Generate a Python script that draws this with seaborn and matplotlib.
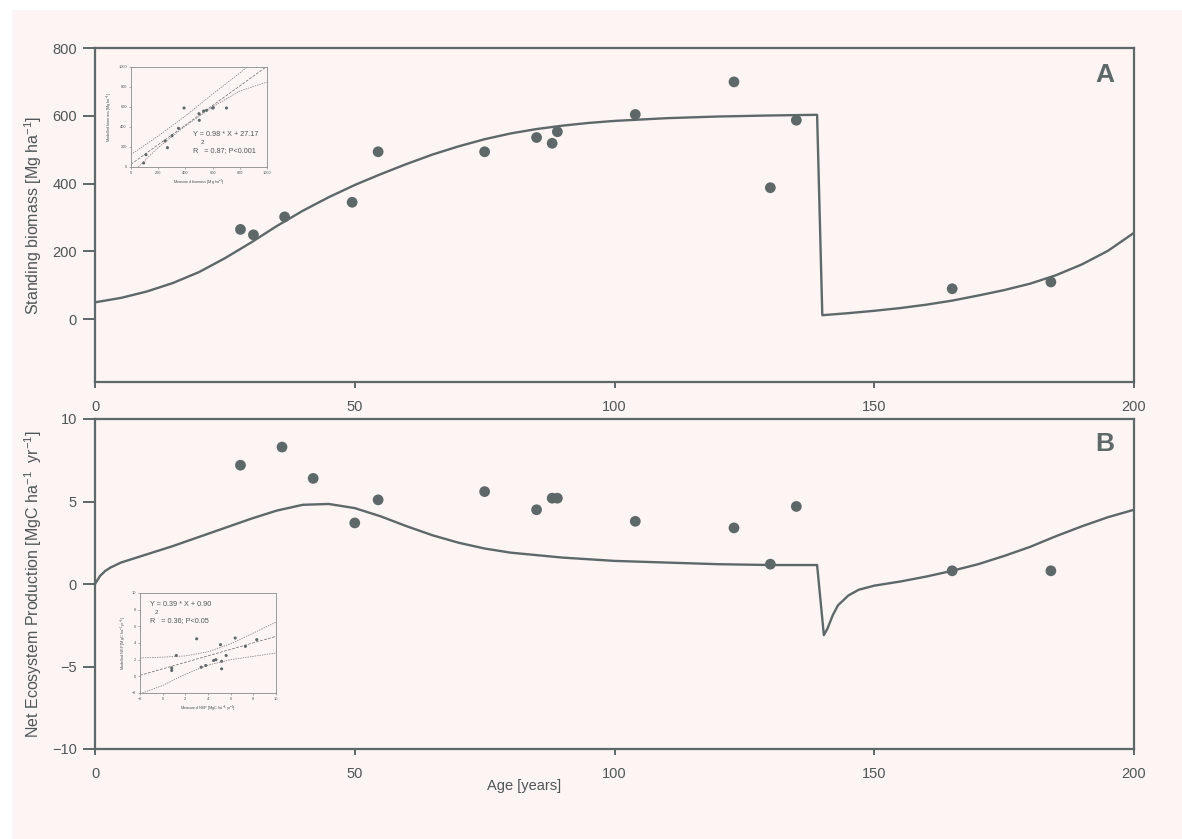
import numpy as np
import pandas as pd
import matplotlib
matplotlib.use("Agg")
import matplotlib.pyplot as plt
from matplotlib.patches import Rectangle
import seaborn as sns

# ---------------- data ----------------
# Panel A: standing biomass observations
biomass_age = [28, 30.5, 36.5, 49.5, 54.5, 75, 85, 88, 89, 104, 123, 130, 135, 165, 184]
biomass_obs = [265, 249, 302, 345, 494, 494, 536, 519, 553, 604, 700, 388, 587, 90, 110]
# Panel A: modelled biomass curve
biomass_curve_age = [0, 5, 10, 15, 20, 25, 30, 35, 40, 45, 50, 55, 60, 65, 70, 75, 80, 85,
                     90, 95, 100, 110, 120, 130, 139, 140, 145, 150, 155, 160, 165, 170,
                     175, 180, 185, 190, 195, 200]
biomass_curve = [50, 63, 82, 107, 139, 180, 226, 275, 320, 360, 396, 428, 458, 486, 510,
                 531, 548, 561, 571, 579, 585, 593, 598, 601, 603, 12, 18, 25, 33, 43, 55,
                 70, 86, 105, 130, 162, 202, 255]

# Panel B: NEP observations
nep_age = [28, 36, 42, 50, 54.5, 75, 85, 88, 89, 104, 123, 130, 135, 165, 184]
nep_obs = [7.2, 8.3, 6.4, 3.7, 5.1, 5.6, 4.5, 5.2, 5.2, 3.8, 3.4, 1.2, 4.7, 0.8, 0.8]
# Panel B: modelled NEP curve
nep_curve_age = [0, 1, 2, 3, 5, 10, 15, 20, 25, 30, 35, 40, 45, 50, 55, 60, 65, 70, 75,
                 80, 90, 100, 110, 120, 130, 139, 140.3, 141, 142, 143, 145, 147, 150,
                 155, 160, 165, 170, 175, 180, 185, 190, 195, 200]
nep_curve = [0.0, 0.5, 0.8, 1.0, 1.3, 1.8, 2.3, 2.85, 3.4, 3.95, 4.45, 4.8, 4.85, 4.6,
             4.1, 3.5, 2.95, 2.5, 2.15, 1.9, 1.6, 1.4, 1.3, 1.2, 1.15, 1.15, -3.1, -2.7,
             -1.9, -1.3, -0.7, -0.35, -0.1, 0.15, 0.45, 0.8, 1.2, 1.7, 2.25, 2.9, 3.5,
             4.05, 4.5]

# Inset A: measured vs modelled biomass
insA_measured = [93, 110, 251, 268, 302, 349, 390, 500, 502, 534, 556, 600, 605, 702]
insA_modelled = [40, 123, 260, 193, 313, 387, 590, 533, 467, 560, 567, 590, 593, 590]
insA_fit_x = [0, 1000]
insA_fit_y = [27.17, 1007.17]
insA_band_x = [0, 200, 400, 600, 800, 1000]
insA_upper = [125, 310, 510, 730, 940, 1160]
insA_lower = [-70, 195, 410, 600, 760, 850]

# Inset B: measured vs modelled NEP
insB_measured = [0.8, 0.8, 1.2, 3.4, 3.8, 4.5, 4.7, 5.2, 5.2, 3.0, 5.1, 5.6, 6.4, 7.3, 8.3]
insB_modelled = [0.7, 1.0, 2.5, 1.1, 1.3, 1.9, 2.0, 0.9, 1.8, 4.5, 3.8, 2.5, 4.6, 3.6, 4.4]
insB_fit_x = [-2, 10]
insB_fit_y = [0.12, 4.80]
insB_band_x = [-2, 0, 2, 4, 6, 8, 10]
insB_upper = [2.2, 2.3, 2.45, 2.95, 3.9, 5.2, 6.5]
insB_lower = [-2.1, -1.1, 0.25, 1.35, 2.0, 2.4, 2.8]

# ---------------- style ----------------
sns.set_theme(style="white")
plt.rcParams['font.family'] = ['Liberation Sans', 'DejaVu Sans']
plt.rcParams['mathtext.fontset'] = 'custom'
plt.rcParams['mathtext.rm'] = 'Liberation Sans'
plt.rcParams['mathtext.default'] = 'regular'
GREY = "#5e6868"
TXT = "#4f5656"
PINK = "#fdf4f4"

W, H = 1182, 839
fig = plt.figure(figsize=(W / 100, H / 100), dpi=100, facecolor="white")
fig.patches.append(Rectangle((12 / W, 0), 1 - 12 / W, 1 - 10 / H, transform=fig.transFigure,
                             facecolor=PINK, edgecolor="none", zorder=-10))


def px_axes(l, t, r, b):
    return [l / W, 1 - b / H, (r - l) / W, (b - t) / H]


def style_main(ax):
    ax.set_facecolor(PINK)
    for s in ax.spines.values():
        s.set_color(GREY)
        s.set_linewidth(1.6)
        s.set_visible(True)
    ax.tick_params(axis="y", direction="out", length=9, width=1.4, color=GREY,
                   labelsize=10.5, labelcolor=TXT, pad=4, left=True)
    ax.tick_params(axis="x", direction="out", length=4, width=1.4, color=GREY,
                   labelsize=10.5, labelcolor=TXT, pad=9, bottom=True)
    ax.set_xlim(0, 200)
    ax.set_xticks([0, 50, 100, 150, 200])
    ax.set_xlabel("")
    ax.grid(False)


# ---- Panel A ----
axA = fig.add_axes(px_axes(95, 48, 1134, 382))
sns.lineplot(x=biomass_curve_age, y=biomass_curve, ax=axA, color=GREY, lw=1.7,
             estimator=None, sort=False)
sns.scatterplot(x=biomass_age, y=biomass_obs, ax=axA, color=GREY, s=60, edgecolor="none")
style_main(axA)
axA.set_ylim(-185, 800)
axA.set_yticks([0, 200, 400, 600, 800])
axA.set_ylabel("Standing biomass [Mg ha$^{-1}$]", fontsize=11.5, color=TXT, labelpad=6)
axA.text(0.972, 0.92, "A", transform=axA.transAxes, fontsize=19, fontweight="bold",
         color=GREY, ha="center", va="center")

# ---- Panel B ----
axB = fig.add_axes(px_axes(95, 419, 1134, 749))
sns.lineplot(x=nep_curve_age, y=nep_curve, ax=axB, color=GREY, lw=1.7,
             estimator=None, sort=False)
sns.scatterplot(x=nep_age, y=nep_obs, ax=axB, color=GREY, s=60, edgecolor="none")
style_main(axB)
axB.set_ylim(-10, 10)
axB.set_yticks([-10, -5, 0, 5, 10])
axB.set_ylabel("Net Ecosystem Production [MgC ha$^{-1}$  yr$^{-1}$]", fontsize=11.5,
               color=TXT, labelpad=6)
axB.text(0.972, 0.925, "B", transform=axB.transAxes, fontsize=19, fontweight="bold",
         color=GREY, ha="center", va="center")
fig.text(524 / W, 1 - 786 / H, "Age [years]", fontsize=10.5, color=TXT,
         ha="center", va="center")


def style_inset(ax):
    ax.set_facecolor(PINK)
    for s in ax.spines.values():
        s.set_color("#8a8a8a")
        s.set_linewidth(0.6)
        s.set_linestyle((0, (1.5, 1)))
    ax.tick_params(direction="out", length=1.5, width=0.4, color="#777777",
                   labelsize=2.8, labelcolor=TXT, pad=1.5, left=True, bottom=True)
    ax.grid(False)


# ---- Inset A ----
iA = fig.add_axes(px_axes(131, 67, 267, 167))
sns.scatterplot(x=insA_measured, y=insA_modelled, ax=iA, color=GREY, s=5,
                edgecolor="none", marker="o")
sns.lineplot(x=insA_fit_x, y=insA_fit_y, ax=iA, color="#666666", lw=0.5,
             linestyle=(0, (4, 2)), estimator=None)
sns.lineplot(x=insA_band_x, y=insA_upper, ax=iA, color="#777777", lw=0.5,
             linestyle=(0, (2, 1.5)), estimator=None)
sns.lineplot(x=insA_band_x, y=insA_lower, ax=iA, color="#777777", lw=0.5,
             linestyle=(0, (2, 1.5)), estimator=None)
style_inset(iA)
iA.set_xlim(0, 1000)
iA.set_ylim(0, 1000)
iA.set_xticks([0, 200, 400, 600, 800, 1000])
iA.set_yticks([0, 200, 400, 600, 800, 1000])
iA.set_xlabel("Measured biomass [Mg ha$^{-1}$]", fontsize=2.8, color=TXT, labelpad=2)
iA.set_ylabel("Modelled biomass [Mg ha$^{-1}$]", fontsize=2.8, color=TXT, labelpad=2)
iA.text(0.455, 0.33, "Y = 0.98 * X + 27.17", transform=iA.transAxes, fontsize=5.2,
        color=TXT, ha="left", va="center")
iA.text(0.515, 0.245, "2", transform=iA.transAxes, fontsize=4.5, color=TXT,
        ha="left", va="center")
iA.text(0.455, 0.165, "R   = 0.87; P<0.001", transform=iA.transAxes, fontsize=5.2,
        color=TXT, ha="left", va="center")

# ---- Inset B ----
iB = fig.add_axes(px_axes(140, 593, 276, 693))
sns.scatterplot(x=insB_measured, y=insB_modelled, ax=iB, color=GREY, s=5,
                edgecolor="none", marker="o")
sns.lineplot(x=insB_fit_x, y=insB_fit_y, ax=iB, color="#666666", lw=0.5,
             linestyle=(0, (4, 2)), estimator=None)
sns.lineplot(x=insB_band_x, y=insB_upper, ax=iB, color="#777777", lw=0.5,
             linestyle=(0, (2, 1.5)), estimator=None)
sns.lineplot(x=insB_band_x, y=insB_lower, ax=iB, color="#777777", lw=0.5,
             linestyle=(0, (2, 1.5)), estimator=None)
style_inset(iB)
iB.set_xlim(-2, 10)
iB.set_ylim(-2, 10)
iB.set_xticks([-2, 0, 2, 4, 6, 8, 10])
iB.set_yticks([-2, 0, 2, 4, 6, 8, 10])
iB.set_xlabel("Measured NEP [MgC ha$^{-1}$ yr$^{-1}$]", fontsize=2.8, color=TXT, labelpad=2)
iB.set_ylabel("Modelled NEP [MgC ha$^{-1}$ yr$^{-1}$]", fontsize=2.8, color=TXT, labelpad=2)
iB.text(0.07, 0.885, "Y = 0.39 * X + 0.90", transform=iB.transAxes, fontsize=5.2,
        color=TXT, ha="left", va="center")
iB.text(0.11, 0.80, "2", transform=iB.transAxes, fontsize=4.5, color=TXT,
        ha="left", va="center")
iB.text(0.07, 0.72, "R   = 0.36; P<0.05", transform=iB.transAxes, fontsize=5.2,
        color=TXT, ha="left", va="center")

fig.savefig("out.png", dpi=100, facecolor=fig.get_facecolor())
